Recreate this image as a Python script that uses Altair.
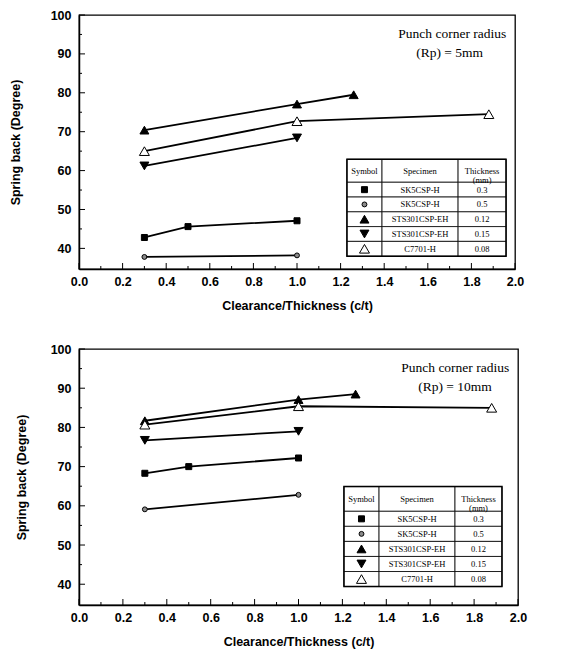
import altair as alt
import pandas as pd

# ---------------- data ----------------
series_names = ["SK5CSP-H (0.3)", "SK5CSP-H (0.5)", "STS301CSP-EH (0.12)",
                "STS301CSP-EH (0.15)", "C7701-H (0.08)"]
specimens = ["SK5CSP-H", "SK5CSP-H", "STS301CSP-EH", "STS301CSP-EH", "C7701-H"]
thickness_labels = ["0.3", "0.5", "0.12", "0.15", "0.08"]
marker_shapes = ["square", "circle", "triangle-up", "triangle-down", "triangle-up"]
marker_fills = ["black", "#8a8a8a", "black", "black", "white"]
marker_sizes = [36, 24, 80, 80, 100]

clearance_sk5_03 = [0.3, 0.5, 1.0]
clearance_sk5_05 = [0.3, 1.0]
clearance_sts_012 = [0.3, 1.0, 1.26]
clearance_sts_015 = [0.3, 1.0]
clearance_c7701 = [0.3, 1.0, 1.88]

rp5_sk5_03 = [42.8, 45.6, 47.1]
rp5_sk5_05 = [37.8, 38.2]
rp5_sts_012 = [70.4, 77.1, 79.5]
rp5_sts_015 = [61.2, 68.4]
rp5_c7701 = [65.0, 72.7, 74.5]

rp10_sk5_03 = [68.3, 70.0, 72.2]
rp10_sk5_05 = [59.1, 62.8]
rp10_sts_012 = [81.7, 87.1, 88.5]
rp10_sts_015 = [76.7, 79.0]
rp10_c7701 = [80.7, 85.4, 85.0]

x_label_values = [0.0, 0.2, 0.4, 0.6, 0.8, 1.0, 1.2, 1.4, 1.6, 1.8, 2.0]
x_minor_values = [0.1, 0.3, 0.5, 0.7, 0.9, 1.1, 1.3, 1.5, 1.7, 1.9]
y_label_values = [40, 50, 60, 70, 80, 90, 100]
y_minor_values = [45, 55, 65, 75, 85, 95]

table_header = ["Symbol", "Specimen", "Thickness\n(mm)"]

clearances = [clearance_sk5_03, clearance_sk5_05, clearance_sts_012,
              clearance_sts_015, clearance_c7701]

X_DOMAIN = [0, 2]
Y_DOMAIN = [34.7, 100]

FONT_SANS = "Liberation Sans"
FONT_SERIF = "Liberation Serif"

size_of = dict(zip(series_names, marker_sizes))


def xenc(field):
    return alt.X(field, type="quantitative",
                 scale=alt.Scale(domain=X_DOMAIN, nice=False, zero=False),
                 axis=alt.Axis(values=x_label_values, format=".1f",
                               title="Clearance/Thickness (c/t)",
                               labelFlush=False, labelOverlap=False))


def yenc(field, title_pad):
    return alt.Y(field, type="quantitative",
                 scale=alt.Scale(domain=Y_DOMAIN, nice=False, zero=False),
                 axis=alt.Axis(values=y_label_values, format="d",
                               title="Spring back (Degree)",
                               titlePadding=title_pad,
                               labelFlush=False, labelOverlap=False))


shape_enc = alt.Shape("series:N", scale=alt.Scale(domain=series_names, range=marker_shapes), legend=None)
fill_enc = alt.Fill("series:N", scale=alt.Scale(domain=series_names, range=marker_fills), legend=None)
size_enc = alt.Size("msize:Q", scale=None, legend=None)


def panel(values, rp_text, width, height, tbl_x, tbl_y, annot, title_pad):
    rows = []
    for name, xs, ys in zip(series_names, clearances, values):
        for xv, yv in zip(xs, ys):
            rows.append({"series": name, "x": xv, "y": yv, "msize": size_of[name]})
    df = pd.DataFrame(rows)

    lines = alt.Chart(df).mark_line(color="black", strokeWidth=1.8).encode(
        x=xenc("x"), y=yenc("y", title_pad), detail="series:N")
    points = alt.Chart(df).mark_point(filled=True, stroke="black", strokeWidth=1, opacity=1).encode(
        x=xenc("x"), y=yenc("y", title_pad), shape=shape_enc, fill=fill_enc, size=size_enc)

    # inward ticks
    xt_major = alt.Chart(pd.DataFrame({"t": x_label_values})).mark_rule(color="black").encode(
        x=xenc("t"), y=alt.value(height), y2=alt.value(height - 6))
    xt_minor = alt.Chart(pd.DataFrame({"t": x_minor_values})).mark_rule(color="black").encode(
        x=xenc("t"), y=alt.value(height), y2=alt.value(height - 3))
    yt_major = alt.Chart(pd.DataFrame({"t": y_label_values})).mark_rule(color="black").encode(
        y=yenc("t", title_pad), x=alt.value(0), x2=alt.value(6))
    yt_minor = alt.Chart(pd.DataFrame({"t": y_minor_values})).mark_rule(color="black").encode(
        y=yenc("t", title_pad), x=alt.value(0), x2=alt.value(3))

    # legend table
    cells = []
    for i in range(3):
        for j in range(len(tbl_y) - 1):
            cells.append({"x": tbl_x[i], "x2": tbl_x[i + 1], "y": tbl_y[j], "y2": tbl_y[j + 1]})
    cell_df = pd.DataFrame(cells)
    table_cells = alt.Chart(cell_df).mark_rect(fill="white", stroke="black", strokeWidth=0.8).encode(
        x=xenc("x"), x2="x2", y=yenc("y", title_pad), y2="y2")
    outer_df = pd.DataFrame([{"x": tbl_x[0], "x2": tbl_x[-1], "y": tbl_y[0], "y2": tbl_y[-1]}])
    table_outer = alt.Chart(outer_df).mark_rect(fill=None, stroke="black", strokeWidth=1.5).encode(
        x=xenc("x"), x2="x2", y=yenc("y", title_pad), y2="y2")

    col_c = [(tbl_x[i] + tbl_x[i + 1]) / 2 for i in range(3)]
    row_c = [(tbl_y[j] + tbl_y[j + 1]) / 2 for j in range(len(tbl_y) - 1)]
    texts = []
    for i in range(3):
        texts.append({"x": col_c[i], "y": row_c[0], "label": table_header[i]})
    for k in range(5):
        texts.append({"x": col_c[1], "y": row_c[k + 1], "label": specimens[k]})
        texts.append({"x": col_c[2], "y": row_c[k + 1], "label": thickness_labels[k]})
    table_text = alt.Chart(pd.DataFrame(texts)).mark_text(
        font=FONT_SERIF, fontSize=8.5, lineBreak="\n", lineHeight=9, baseline="middle",
        color="black").encode(
        x=xenc("x"), y=yenc("y", title_pad), text="label:N")
    sym_df = pd.DataFrame({"series": series_names, "x": [col_c[0]] * 5, "y": row_c[1:],
                           "msize": [size_of[s] for s in series_names]})
    table_sym = alt.Chart(sym_df).mark_point(filled=True, stroke="black", strokeWidth=1, opacity=1).encode(
        x=xenc("x"), y=yenc("y", title_pad), shape=shape_enc, fill=fill_enc, size=size_enc)

    ann_df = pd.DataFrame([{"x": annot[0], "y": annot[1], "label": "Punch corner radius"}])
    ann1 = alt.Chart(ann_df).mark_text(font=FONT_SERIF, fontSize=13.5, align="right", color="black").encode(
        x=xenc("x"), y=yenc("y", title_pad), text="label:N")
    ann_df2 = pd.DataFrame([{"x": annot[2], "y": annot[3], "label": rp_text}])
    ann2 = alt.Chart(ann_df2).mark_text(font=FONT_SERIF, fontSize=13.5, align="center", color="black").encode(
        x=xenc("x"), y=yenc("y", title_pad), text="label:N")

    return alt.layer(xt_minor, xt_major, yt_minor, yt_major, lines, points,
                     table_cells, table_outer, table_text, table_sym, ann1, ann2
                     ).properties(width=width, height=height)


top = panel([rp5_sk5_03, rp5_sk5_05, rp5_sts_012, rp5_sts_015, rp5_c7701],
            "(Rp) = 5mm", 436, 254,
            [1.229, 1.39, 1.739, 1.959],
            [62.9, 57.0, 53.2, 49.4, 45.6, 41.8, 38.0],
            [1.96, 95.1, 1.70, 90.2], 28)
bottom = panel([rp10_sk5_03, rp10_sk5_05, rp10_sts_012, rp10_sts_015, rp10_c7701],
               "(Rp) = 10mm", 439, 256,
               [1.207, 1.367, 1.713, 1.927],
               [64.9, 58.6, 54.76, 50.92, 47.08, 43.24, 39.4],
               [1.96, 95.2, 1.713, 90.3], 22)

chart = alt.vconcat(top, bottom, spacing=29).properties(
    padding={"left": 0, "top": 0, "right": 5, "bottom": 5}
).configure_view(stroke="black", strokeWidth=1.3).configure_axis(
    grid=False, ticks=False, domainColor="black", domainWidth=1.5,
    labelFont=FONT_SANS, labelFontWeight="bold", labelFontSize=12.5, labelColor="black",
    labelPadding=6,
    titleFont=FONT_SANS, titleFontWeight="bold", titleFontSize=12.5, titleColor="black",
).configure_axisX(titlePadding=12).configure_axisY(labelPadding=8)

chart.save("out.html", embed_options={"renderer": "svg", "actions": False})
